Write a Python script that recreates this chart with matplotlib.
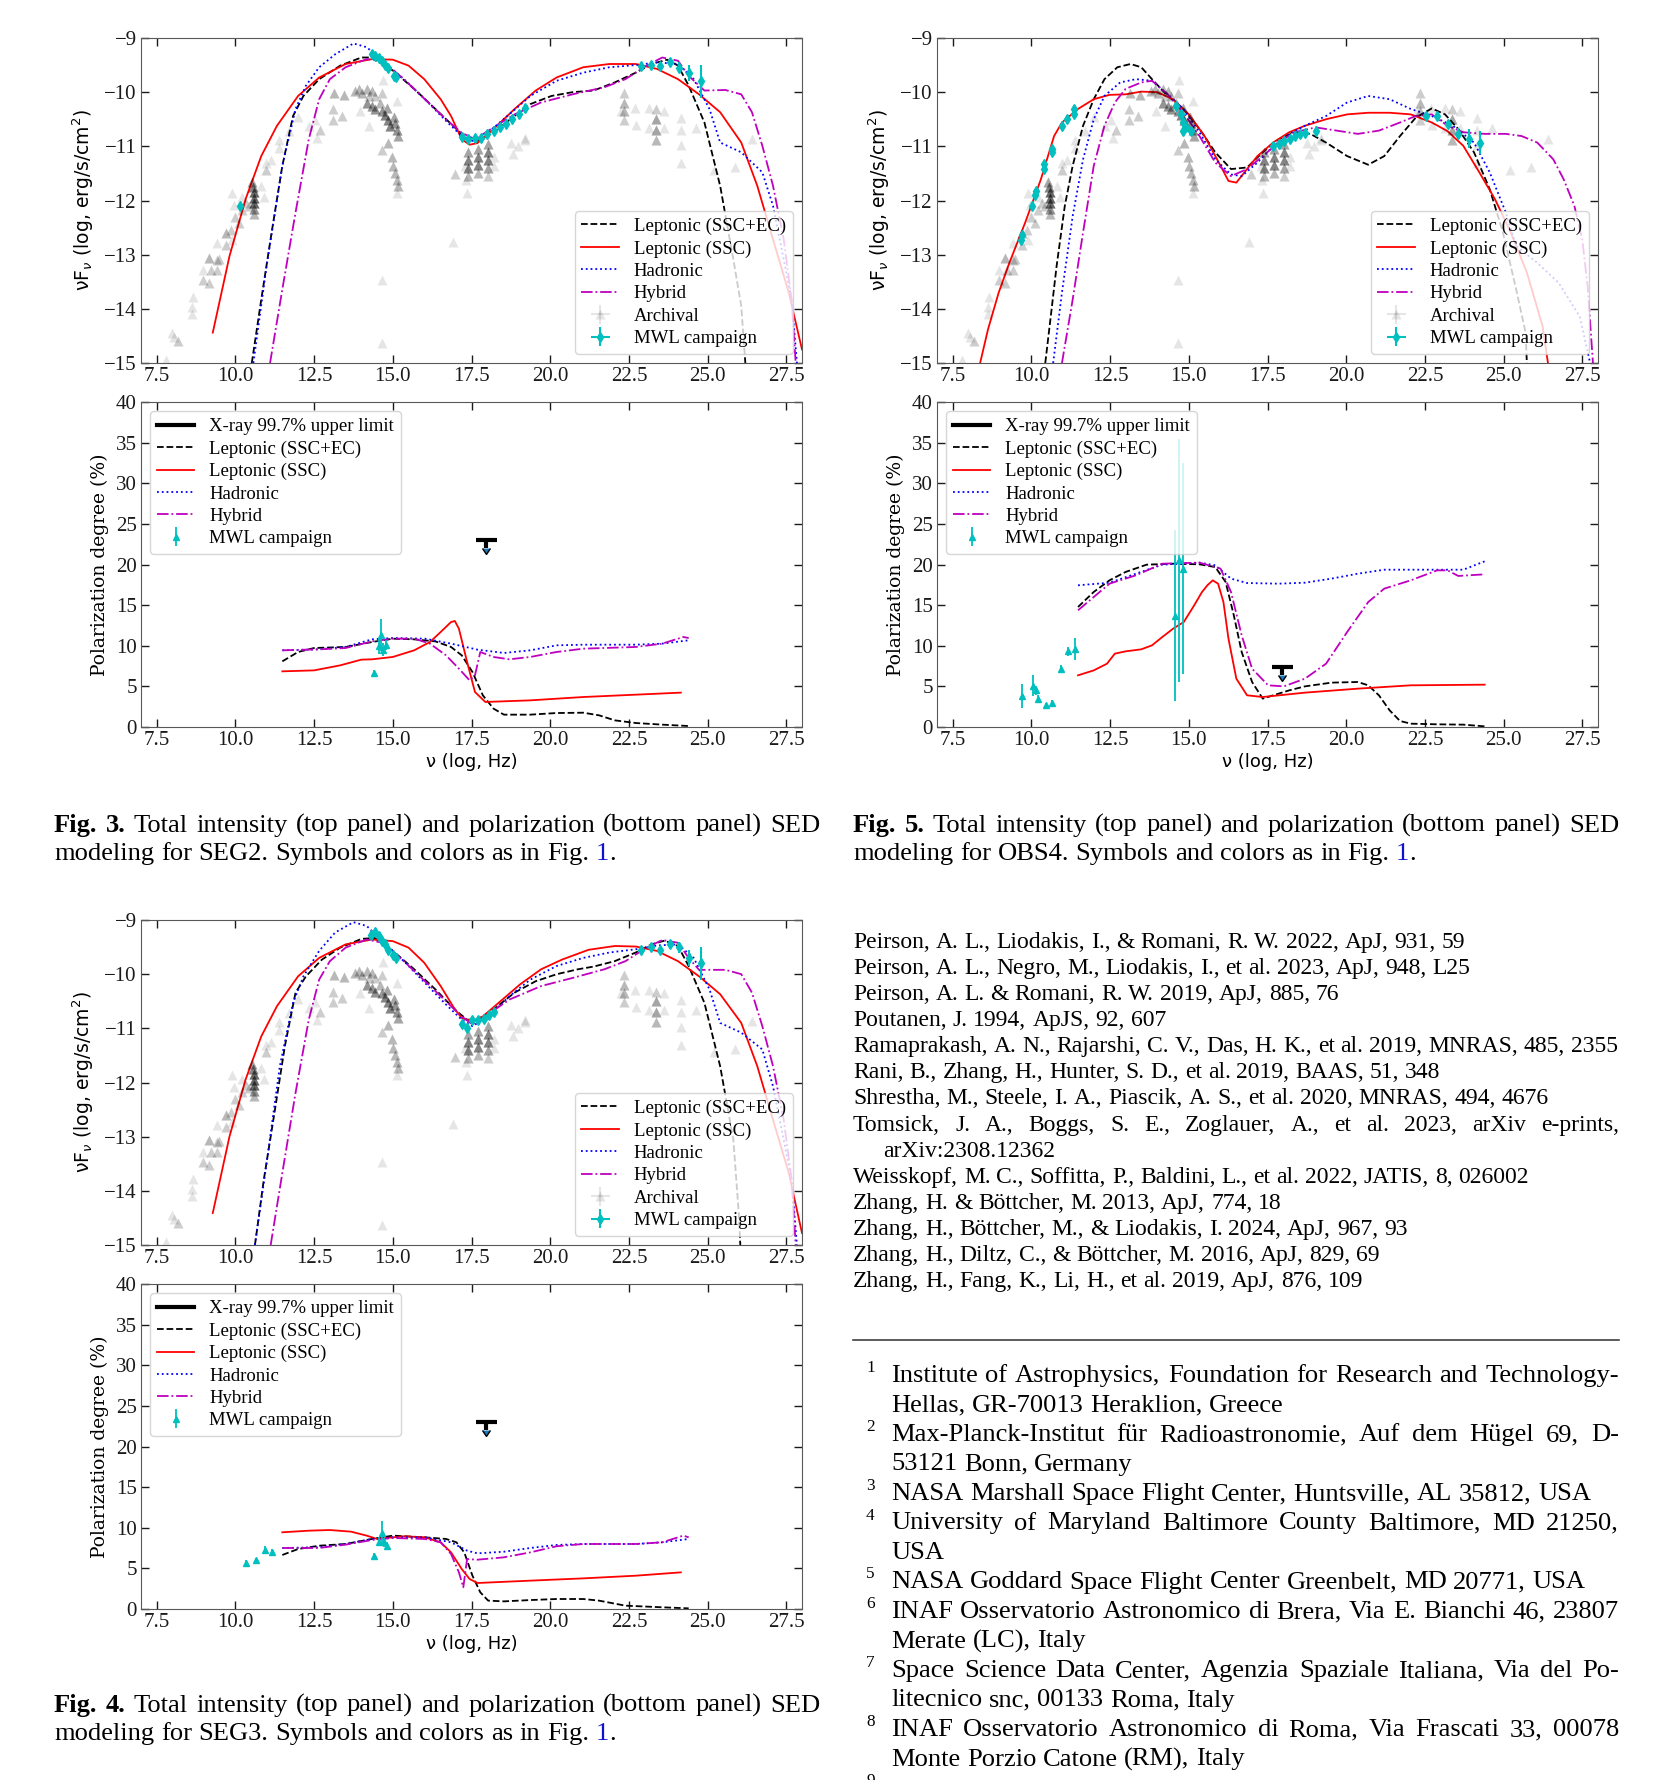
import numpy as np
import matplotlib
matplotlib.use('Agg')
import matplotlib.pyplot as plt
from matplotlib.lines import Line2D

plt.rcParams['font.family'] = 'Liberation Serif'
plt.rcParams['mathtext.fontset'] = 'dejavusans'
plt.rcParams['xtick.direction'] = 'in'
plt.rcParams['ytick.direction'] = 'in'
plt.rcParams['xtick.top'] = True
plt.rcParams['ytick.right'] = True

# ---------------- archival data (same in every SED panel) ----------------
arch_x = [7.8, 7.97, 8.06, 8.19, 8.62, 8.62, 8.64, 8.96, 8.96, 9.17, 9.17, 9.22, 9.4, 9.43, 9.48, 9.43,
          9.69, 9.69, 9.85, 9.9, 10.0, 10.11, 9.96, 9.9, 10.22, 10.22, 10.33, 10.43,
          10.54, 10.57, 10.6, 10.6, 10.6, 10.6, 10.6,
          10.81, 10.91, 10.96, 10.96, 11.12, 11.38, 11.38, 11.7, 12.0, 12.33, 12.54, 12.7, 12.6,
          13.12, 13.44, 13.09, 13.09, 13.39,
          13.81, 13.91, 14.02, 14.18, 14.34, 14.44, 14.23, 13.97, 14.23, 14.65, 14.7, 15.12,
          14.18, 14.34, 14.44, 14.6, 14.65, 14.76, 14.86, 14.92, 15.07, 15.12, 15.18, 14.8, 15.05,
          14.65, 14.86, 14.97, 15.02, 15.07, 15.12, 15.18, 15.12, 14.65, 14.65,
          16.97, 16.92, 17.29, 17.34, 17.37,
          17.4, 17.4, 17.4, 17.4, 17.7, 17.7, 17.7, 17.7, 18.02, 18.02, 18.02, 18.02, 18.02,
          18.23, 18.23, 18.76, 18.98, 19.19, 18.81, 19.2,
          22.26, 22.36, 22.36, 22.36, 22.36, 22.68, 22.73, 23.15, 23.15, 23.36, 23.36, 23.36, 23.36,
          23.63, 23.63, 24.16, 24.16, 24.16, 24.16, 24.63, 25.19, 25.88, 26.4]
arch_y = [-14.95, -14.45, -14.52, -14.6, -13.96, -14.09, -13.79, -13.47, -13.28, -13.53, -13.07, -13.28, -13.1, -13.28, -13.08, -12.79,
          -12.82, -12.6, -12.54, -12.73, -12.3, -12.42, -12.08, -11.86, -12.17, -11.93, -12.05, -12.11,
          -11.65, -11.75, -11.85, -11.95, -12.05, -12.15, -12.25,
          -11.74, -11.93, -11.43, -11.31, -11.25, -10.88, -11.03, -10.72, -10.45, -10.63, -10.51, -10.7, -10.85,
          -10.01, -10.06, -10.32, -10.52, -10.44,
          -9.98, -9.95, -10.01, -9.95, -9.98, -10.07, -10.07, -10.35, -10.63, -10.01, -9.77, -10.17,
          -10.2, -10.26, -10.32, -10.2, -10.35, -10.42, -10.51, -10.63, -10.57, -10.69, -10.81, -10.3, -10.45,
          -11.06, -10.94, -11.19, -11.37, -11.49, -11.62, -11.74, -11.86, -13.47, -14.63,
          -11.52, -12.76, -11.37, -11.62, -11.86,
          -11.1, -11.25, -11.4, -11.55, -11.05, -11.2, -11.35, -11.5, -10.95, -11.1, -11.25, -11.4, -11.55,
          -11.19, -11.37, -10.94, -11.0, -10.88, -11.15, -10.85,
          -10.35, -10.01, -10.2, -10.35, -10.51, -10.29, -10.6, -10.29, -10.66, -10.32, -10.5, -10.69, -10.88,
          -10.35, -10.66, -10.48, -10.69, -10.97, -11.3, -10.66, -11.44, -11.39, -10.86]
arch_n = [1, 1, 1, 2, 1, 1, 1, 2, 1, 2, 3, 2, 2, 2, 2, 1,
          2, 3, 2, 1, 2, 2, 1, 1, 2, 1, 2, 2,
          4, 6, 8, 8, 8, 5, 3,
          1, 1, 2, 1, 1, 1, 1, 1, 1, 1, 1, 2, 1,
          3, 3, 2, 2, 2,
          3, 3, 3, 3, 3, 2, 2, 1, 1, 2, 1, 1,
          5, 5, 5, 3, 5, 6, 6, 6, 5, 5, 4, 4, 4,
          2, 3, 3, 3, 3, 3, 3, 1, 1, 1,
          2, 1, 1, 1, 1,
          4, 6, 6, 3, 4, 6, 6, 3, 4, 6, 6, 4, 2,
          1, 1, 1, 1, 1, 1, 1,
          1, 2, 3, 3, 2, 1, 1, 1, 1, 2, 4, 4, 3,
          1, 1, 1, 1, 1, 1, 1, 1, 1, 1]

# ---------------- Fig. 3 (SEG2) ----------------
f3_ec_x = [10.52, 10.82, 11.15, 11.49, 11.83, 12.16, 12.66, 13.33, 14.0, 14.34, 15.0, 15.68, 16.35, 17.02, 17.36, 17.69, 18.2,
           18.87, 19.37, 20.04, 20.71, 21.38, 22.05, 22.72, 23.22, 23.72, 24.06, 24.4, 24.9, 25.4, 25.82, 26.07, 26.2]
f3_ec_y = [-15.0, -13.83, -12.59, -11.36, -10.44, -10.07, -9.76, -9.51, -9.36, -9.36, -9.6, -9.94, -10.31, -10.68, -10.87, -10.9, -10.74,
           -10.44, -10.22, -10.07, -10.0, -9.97, -9.82, -9.64, -9.48, -9.4, -9.51, -9.88, -10.56, -11.73, -13.09, -13.95, -15.0]
f3_ssc_x = [9.28, 9.81, 10.32, 10.82, 11.32, 11.99, 12.66, 13.5, 14.34, 15.0, 15.5, 16.0, 16.52, 16.85, 17.19, 17.44, 17.69, 18.2,
            18.87, 19.54, 20.2, 21.05, 21.88, 22.72, 23.39, 24.06, 24.73, 25.4, 26.07, 26.58, 27.08, 27.58, 28.0]
f3_ssc_y = [-14.44, -13.03, -11.98, -11.18, -10.62, -10.07, -9.73, -9.48, -9.39, -9.4, -9.51, -9.76, -10.13, -10.44, -10.87, -10.97, -10.94, -10.68,
            -10.31, -9.97, -9.73, -9.54, -9.48, -9.48, -9.57, -9.76, -10.04, -10.37, -10.93, -11.73, -12.72, -13.7, -14.75]
f3_had_x = [10.57, 10.99, 11.49, 11.91, 12.24, 12.66, 13.17, 13.75, 14.17, 14.67, 15.35, 16.02, 16.69, 17.19, 17.53, 18.03, 18.7,
            19.37, 20.2, 21.05, 21.88, 22.72, 23.39, 24.06, 24.56, 25.06, 25.4, 26.07, 26.74, 27.08, 27.42, 27.67, 27.84]
f3_had_y = [-15.0, -13.21, -11.36, -10.31, -9.88, -9.54, -9.3, -9.1, -9.17, -9.42, -9.76, -10.13, -10.53, -10.81, -10.9, -10.74, -10.41,
            -10.07, -9.79, -9.64, -9.54, -9.5, -9.45, -9.48, -9.76, -10.31, -10.93, -11.11, -11.48, -12.1, -13.09, -13.83, -15.0]
f3_hyb_x = [11.1, 11.49, 11.91, 12.33, 12.66, 13.0, 13.5, 14.17, 14.67, 15.35, 16.02, 16.69, 17.19, 17.61, 18.2, 18.87, 19.71,
            20.71, 21.72, 22.39, 23.06, 23.56, 24.06, 24.4, 24.9, 25.57, 26.07, 26.41, 26.74, 27.08, 27.42, 27.67, 27.8]
f3_hyb_y = [-15.0, -13.64, -12.22, -10.87, -10.13, -9.76, -9.54, -9.39, -9.42, -9.76, -10.13, -10.5, -10.75, -10.87, -10.65, -10.41, -10.19,
            -10.04, -9.91, -9.76, -9.51, -9.36, -9.42, -9.7, -9.97, -9.96, -10.04, -10.37, -10.99, -11.73, -12.72, -13.83, -15.0]
f3_mwl_x = [10.15, 14.35, 14.45, 14.55, 14.65, 14.75, 14.85, 15.05, 15.1, 17.2, 17.4, 17.6, 17.8, 18.0, 18.2, 18.4, 18.6, 18.8, 19.0, 19.2,
            22.9, 23.2, 23.5, 23.8, 24.1, 24.4, 24.8]
f3_mwl_y = [-12.1, -9.3, -9.33, -9.37, -9.42, -9.5, -9.55, -9.7, -9.72, -10.82, -10.87, -10.85, -10.85, -10.78, -10.72, -10.65, -10.58, -10.5, -10.4, -10.3,
            -9.52, -9.5, -9.52, -9.45, -9.55, -9.65, -9.8]
f3_mwl_yerr = [0.05, 0.04, 0.04, 0.04, 0.04, 0.04, 0.04, 0.04, 0.04, 0.06, 0.05, 0.05, 0.05, 0.05, 0.05, 0.05, 0.05, 0.05, 0.06, 0.08,
               0.05, 0.05, 0.06, 0.07, 0.1, 0.15, 0.3]

f3_pol_ec_x = [11.49, 11.99, 12.5, 13.5, 14.34, 15.0, 15.68, 16.35, 16.85, 17.19, 17.53, 17.86, 18.2, 18.53, 19.37, 20.2, 21.05, 21.55, 22.05, 22.72, 23.56, 24.4]
f3_pol_ec_y = [8.08, 9.23, 9.72, 9.85, 10.46, 10.87, 10.79, 10.54, 9.85, 8.82, 6.77, 3.9, 2.26, 1.52, 1.52, 1.72, 1.76, 1.44, 0.82, 0.49, 0.29, 0.12]
f3_pol_ssc_x = [11.49, 12.5, 13.33, 14.0, 14.34, 15.0, 15.68, 16.18, 16.52, 16.85, 16.97, 17.1, 17.36, 17.61, 17.94, 19.37, 21.05, 22.72, 24.15]
f3_pol_ssc_y = [6.85, 6.97, 7.59, 8.29, 8.33, 8.62, 9.44, 10.46, 11.69, 12.92, 13.05, 12.1, 8.0, 4.31, 3.08, 3.28, 3.69, 3.98, 4.23]
f3_pol_had_x = [11.49, 12.66, 13.5, 14.34, 15.0, 16.02, 16.85, 17.69, 18.53, 19.37, 20.2, 21.05, 22.72, 23.56, 24.4]
f3_pol_had_y = [9.44, 9.56, 9.85, 10.79, 10.95, 10.87, 10.26, 9.52, 9.11, 9.44, 10.05, 10.13, 10.13, 10.26, 10.67]
f3_pol_hyb_x = [11.49, 12.66, 13.5, 14.34, 15.0, 15.68, 16.18, 16.69, 17.1, 17.44, 17.61, 17.78, 18.2, 18.7, 19.37, 20.2, 21.05, 22.72, 23.56, 24.23, 24.4]
f3_pol_hyb_y = [9.44, 9.56, 9.72, 10.54, 10.87, 10.87, 10.26, 8.82, 7.18, 5.74, 6.36, 9.23, 8.62, 8.33, 8.62, 9.23, 9.64, 9.85, 10.26, 11.08, 10.95]
f3_pmwl_x = [14.4, 14.55, 14.62, 14.68, 14.78]
f3_pmwl_y = [6.6, 10.0, 11.3, 9.5, 10.1]
f3_pmwl_err = [0.4, 1.0, 2.0, 0.8, 0.6]
f3_ul = (17.97, 23.0)

# ---------------- Fig. 4 (SEG3) ----------------
f4_ec_x = [10.62, 10.9, 11.24, 11.57, 11.91, 12.24, 12.75, 13.33, 14.0, 14.42, 15.0, 15.68, 16.35, 17.02, 17.36, 17.69, 18.2,
           18.87, 19.54, 20.21, 20.88, 21.38, 22.05, 22.72, 23.22, 23.64, 24.06, 24.4, 24.9, 25.4, 25.82, 25.99, 26.04]
f4_ec_y = [-15.0, -13.8, -12.56, -11.33, -10.34, -10.04, -9.73, -9.51, -9.35, -9.33, -9.57, -9.91, -10.28, -10.68, -10.84, -10.84, -10.65,
           -10.34, -10.13, -10.0, -9.91, -9.86, -9.76, -9.6, -9.45, -9.38, -9.48, -9.85, -10.53, -11.7, -13.06, -14.41, -15.0]
f4_ssc_x = [9.28, 9.81, 10.32, 10.82, 11.32, 11.99, 12.66, 13.5, 14.34, 15.0, 15.5, 16.0, 16.52, 16.94, 17.19, 17.53, 17.86, 18.36,
            19.04, 19.71, 20.38, 21.22, 22.05, 22.72, 23.39, 24.06, 24.73, 25.4, 26.07, 26.58, 27.08, 27.58, 28.0]
f4_ssc_y = [-14.41, -13.0, -11.95, -11.15, -10.59, -10.04, -9.7, -9.45, -9.36, -9.39, -9.51, -9.79, -10.22, -10.62, -10.81, -10.87, -10.78, -10.53,
            -10.19, -9.91, -9.73, -9.55, -9.48, -9.49, -9.57, -9.76, -10.04, -10.37, -10.9, -11.7, -12.69, -13.67, -14.78]
f4_had_x = [10.62, 10.99, 11.41, 11.83, 12.16, 12.66, 13.17, 13.75, 14.17, 14.67, 15.35, 16.02, 16.69, 17.19, 17.53, 18.03, 18.7,
            19.37, 20.2, 21.05, 21.88, 22.72, 23.39, 24.06, 24.56, 25.06, 25.4, 26.07, 26.74, 27.08, 27.42, 27.67, 27.84]
f4_had_y = [-15.0, -13.49, -11.7, -10.53, -10.04, -9.57, -9.23, -9.04, -9.11, -9.39, -9.76, -10.16, -10.56, -10.84, -10.96, -10.78, -10.41,
            -10.1, -9.85, -9.7, -9.6, -9.54, -9.47, -9.45, -9.7, -10.28, -10.9, -11.08, -11.39, -12.07, -13.06, -13.8, -15.0]
f4_hyb_x = [11.12, 11.49, 11.91, 12.33, 12.66, 13.0, 13.5, 14.17, 14.67, 15.35, 16.02, 16.69, 17.19, 17.53, 18.03, 18.7, 19.71,
            20.71, 21.72, 22.39, 23.06, 23.56, 24.06, 24.4, 24.73, 25.57, 26.07, 26.41, 26.74, 27.08, 27.42, 27.67, 27.8]
f4_hyb_y = [-15.0, -13.67, -12.19, -10.84, -10.1, -9.76, -9.51, -9.36, -9.42, -9.76, -10.13, -10.5, -10.78, -10.93, -10.74, -10.47, -10.22,
            -10.07, -9.91, -9.76, -9.51, -9.37, -9.42, -9.7, -9.92, -9.92, -10.0, -10.34, -10.96, -11.7, -12.69, -13.8, -15.0]
f4_mwl_x = [14.3, 14.45, 14.55, 14.65, 14.75, 14.85, 15.0, 15.1, 17.2, 17.35, 17.5, 17.7, 17.9, 18.05, 18.2,
            22.9, 23.2, 23.5, 23.8, 24.1, 24.4, 24.8]
f4_mwl_y = [-9.28, -9.22, -9.3, -9.38, -9.45, -9.55, -9.65, -9.7, -10.92, -11.0, -10.85, -10.85, -10.82, -10.75, -10.7,
            -9.55, -9.5, -9.55, -9.45, -9.5, -9.7, -9.8]
f4_mwl_yerr = [0.04, 0.06, 0.04, 0.04, 0.04, 0.04, 0.04, 0.04, 0.06, 0.06, 0.05, 0.05, 0.05, 0.05, 0.06,
               0.05, 0.05, 0.06, 0.07, 0.1, 0.15, 0.3]

f4_pol_ec_x = [11.49, 11.99, 12.66, 13.5, 14.34, 15.0, 16.02, 16.69, 17.02, 17.27, 17.53, 17.78, 18.03, 18.53, 19.37, 20.2, 21.05, 21.55, 22.39, 23.56, 24.4]
f4_pol_ec_y = [6.65, 7.38, 7.79, 8.0, 8.62, 9.03, 8.82, 8.62, 8.21, 6.97, 4.1, 2.05, 1.03, 0.94, 1.1, 1.23, 1.23, 1.03, 0.41, 0.21, 0.08]
f4_pol_ssc_x = [11.49, 12.33, 13.0, 13.67, 14.17, 14.5, 15.35, 16.02, 16.52, 16.85, 17.19, 17.44, 17.69, 19.37, 21.05, 22.72, 24.15]
f4_pol_ssc_y = [9.44, 9.64, 9.72, 9.52, 9.03, 8.62, 8.95, 8.82, 8.21, 6.97, 4.92, 3.69, 3.2, 3.49, 3.77, 4.1, 4.51]
f4_pol_had_x = [11.49, 12.66, 13.5, 14.34, 15.0, 16.02, 16.85, 17.36, 17.69, 18.53, 19.37, 20.2, 21.05, 22.72, 23.56, 24.4]
f4_pol_had_y = [7.51, 7.59, 8.0, 8.62, 8.82, 8.82, 8.21, 7.18, 6.85, 7.05, 7.51, 7.88, 8.0, 8.0, 8.21, 8.62]
f4_pol_hyb_x = [11.49, 12.66, 13.5, 14.34, 15.0, 16.02, 16.52, 16.85, 17.1, 17.24, 17.36, 17.69, 18.53, 19.37, 20.2, 21.05, 22.72, 23.56, 24.23, 24.4]
f4_pol_hyb_y = [7.51, 7.51, 7.92, 8.49, 8.74, 8.62, 8.21, 6.77, 4.51, 2.67, 6.15, 6.07, 6.36, 6.97, 7.72, 8.0, 8.0, 8.21, 9.03, 8.82]
f4_pmwl_x = [10.35, 10.65, 10.95, 11.15, 14.4, 14.55, 14.65, 14.72, 14.82]
f4_pmwl_y = [5.7, 6.0, 7.3, 7.0, 6.5, 8.3, 9.3, 8.2, 7.8]
f4_pmwl_err = [0.3, 0.3, 0.4, 0.4, 0.4, 0.6, 1.5, 0.6, 0.5]
f4_ul = (17.97, 23.0)

# ---------------- Fig. 5 (OBS4) ----------------
f5_ec_x = [10.44, 10.64, 10.8, 11.06, 11.31, 11.64, 11.98, 12.32, 12.73, 13.15, 13.49, 13.83, 14.33, 14.83, 15.34, 15.84, 16.34, 16.85,
           17.35, 17.85, 18.36, 18.86, 19.36, 20.03, 20.7, 21.21, 21.71, 22.21, 22.72, 23.14, 23.56, 24.06, 24.56, 24.98, 25.4, 25.7, 25.74]
f5_ec_y = [-15.0, -14.01, -13.21, -12.1, -11.36, -10.62, -10.13, -9.76, -9.54, -9.48, -9.54, -9.76, -10.07, -10.31, -10.68, -11.11, -11.42, -11.39,
           -11.11, -10.87, -10.74, -10.77, -10.93, -11.18, -11.34, -11.18, -10.81, -10.47, -10.3, -10.41, -10.68, -11.11, -11.79, -12.59, -13.64, -14.44, -15.0]
f5_ssc_x = [8.37, 8.62, 8.96, 9.3, 9.8, 10.3, 10.72, 10.97, 11.48, 11.98, 12.48, 12.99, 13.49, 13.99, 14.5, 15.0, 15.5, 16.01, 16.26, 16.51,
            16.85, 17.18, 17.68, 18.19, 18.69, 19.36, 20.03, 20.7, 21.38, 22.05, 22.72, 23.22, 23.72, 24.23, 24.73, 25.23, 25.74, 26.24, 26.41]
f5_ssc_y = [-15.0, -14.38, -13.7, -13.15, -12.41, -11.61, -10.81, -10.56, -10.31, -10.13, -10.05, -10.04, -9.99, -10.0, -10.13, -10.41, -10.81, -11.36, -11.64, -11.67,
            -11.42, -11.18, -10.93, -10.74, -10.62, -10.5, -10.41, -10.38, -10.38, -10.41, -10.56, -10.72, -10.99, -11.48, -11.98, -12.59, -13.33, -14.32, -15.0]
f5_had_x = [10.69, 10.97, 11.31, 11.64, 11.98, 12.32, 12.82, 13.32, 13.83, 14.33, 14.83, 15.34, 15.84, 16.34, 16.68, 17.18, 17.68, 18.19,
            18.69, 19.36, 20.03, 20.7, 21.38, 22.05, 22.72, 23.39, 24.06, 24.56, 25.07, 25.4, 26.07, 26.75, 27.42, 27.75]
f5_had_y = [-15.0, -13.7, -12.29, -11.24, -10.5, -10.07, -9.82, -9.76, -9.79, -10.04, -10.31, -10.74, -11.24, -11.52, -11.55, -11.3, -11.0, -10.77,
            -10.62, -10.44, -10.19, -10.07, -10.13, -10.31, -10.44, -10.62, -10.93, -11.48, -12.22, -12.84, -13.15, -13.52, -14.14, -15.0]
f5_hyb_x = [10.97, 11.31, 11.64, 11.98, 12.32, 12.65, 12.99, 13.49, 13.83, 14.33, 14.83, 15.34, 15.84, 16.34, 16.85, 17.35, 17.85, 18.36,
            19.03, 19.7, 20.37, 21.04, 21.71, 22.21, 22.72, 23.22, 23.72, 24.4, 25.07, 25.57, 26.07, 26.58, 26.91, 27.25, 27.5, 27.67, 27.84]
f5_hyb_y = [-15.0, -13.83, -12.59, -11.36, -10.62, -10.19, -9.94, -9.82, -9.79, -10.04, -10.38, -10.81, -11.3, -11.55, -11.42, -11.18, -10.93, -10.74,
            -10.65, -10.71, -10.77, -10.71, -10.56, -10.44, -10.41, -10.62, -10.74, -10.77, -10.77, -10.81, -10.93, -11.24, -11.61, -12.1, -12.72, -13.58, -15.0]
f5_mwl_x = [9.66, 9.71, 10.02, 10.1, 10.13, 10.39, 10.39, 10.64, 10.64, 10.97, 11.14, 11.34, 11.34,
            14.58, 14.75, 14.83, 14.92, 14.83, 15.08, 17.68, 17.85, 18.02, 18.2, 18.36, 18.52, 18.69, 19.03,
            22.55, 22.89, 23.22, 23.56, 23.89, 24.26]
f5_mwl_y = [-12.72, -12.63, -12.11, -11.89, -11.83, -11.42, -11.32, -11.11, -11.05, -10.62, -10.5, -10.41, -10.31,
            -10.25, -10.41, -10.56, -10.65, -10.71, -10.71, -11.0, -10.95, -10.9, -10.86, -10.81, -10.78, -10.75, -10.72,
            -10.44, -10.44, -10.59, -10.77, -10.86, -10.93]
f5_mwl_yerr = [0.05, 0.05, 0.05, 0.05, 0.05, 0.05, 0.05, 0.05, 0.05, 0.05, 0.05, 0.05, 0.05,
               0.04, 0.04, 0.04, 0.04, 0.04, 0.04, 0.05, 0.05, 0.05, 0.05, 0.05, 0.05, 0.05, 0.06,
               0.06, 0.06, 0.07, 0.1, 0.18, 0.22]

f5_pol_ec_x = [11.48, 11.98, 12.48, 12.99, 13.66, 14.5, 15.34, 15.84, 16.17, 16.43, 16.68, 17.01, 17.35, 17.68, 18.19, 18.69, 19.53, 20.37,
               20.7, 21.04, 21.38, 21.71, 22.05, 22.89, 23.72, 24.4]
f5_pol_ec_y = [14.77, 16.62, 18.05, 19.08, 19.98, 20.1, 20.02, 19.69, 17.85, 13.74, 9.23, 5.54, 3.49, 3.9, 4.51, 5.0, 5.46, 5.54,
               5.13, 3.9, 2.05, 0.74, 0.41, 0.33, 0.29, 0.08]
f5_pol_ssc_x = [11.48, 11.98, 12.4, 12.65, 12.99, 13.49, 13.83, 14.16, 14.5, 14.84, 15.17, 15.42, 15.59, 15.76, 15.93, 16.1, 16.26, 16.51,
                16.85, 17.35, 18.69, 20.37, 22.05, 24.4]
f5_pol_ssc_y = [6.36, 6.97, 7.79, 9.03, 9.31, 9.56, 10.05, 11.08, 12.1, 12.92, 14.97, 16.62, 17.44, 18.05, 17.64, 15.38, 10.87, 5.95,
                3.9, 3.69, 4.23, 4.72, 5.13, 5.21]
f5_pol_had_x = [11.48, 12.48, 13.32, 14.16, 15.34, 15.84, 16.34, 16.85, 17.85, 18.69, 19.53, 20.37, 21.21, 22.05, 23.72, 24.4]
f5_pol_had_y = [17.44, 17.76, 18.87, 19.98, 20.23, 19.9, 18.26, 17.72, 17.64, 17.76, 18.26, 18.87, 19.36, 19.36, 19.36, 20.39]
f5_pol_hyb_x = [11.48, 11.98, 12.48, 13.32, 14.16, 15.34, 16.01, 16.34, 16.68, 17.01, 17.52, 18.02, 18.69, 19.36, 20.03, 20.7, 21.21,
                22.05, 22.89, 23.22, 23.56, 23.89, 24.4]
f5_pol_hyb_y = [14.36, 16.0, 17.64, 18.67, 20.1, 20.23, 19.49, 16.62, 11.28, 7.18, 5.13, 5.0, 5.95, 7.79, 11.69, 15.38, 17.03,
                18.05, 19.28, 19.28, 18.59, 18.67, 18.79]
f5_pmwl_x = [9.7, 10.05, 10.15, 10.2, 10.45, 10.65, 10.95, 11.15, 11.4, 14.55, 14.7, 14.8]
f5_pmwl_y = [3.8, 5.1, 4.5, 3.5, 2.7, 3.0, 7.2, 9.3, 9.6, 13.7, 20.5, 19.5]
f5_pmwl_err = [1.5, 1.3, 0.6, 0.5, 0.3, 0.3, 0.4, 0.5, 1.3, 10.5, 15.0, 13.0]
f5_ul = (17.97, 7.4)

# ---------------- page text ----------------
captions = [
    ("3.", "Total intensity (top panel) and polarization (bottom panel) SED", "modeling for SEG2. Symbols and colors as in Fig."),
    ("5.", "Total intensity (top panel) and polarization (bottom panel) SED", "modeling for OBS4. Symbols and colors as in Fig."),
    ("4.", "Total intensity (top panel) and polarization (bottom panel) SED", "modeling for SEG3. Symbols and colors as in Fig."),
]
references = [
    ("Peirson, A. L., Liodakis, I., & Romani, R. W. 2022, ApJ, 931, 59", False),
    ("Peirson, A. L., Negro, M., Liodakis, I., et al. 2023, ApJ, 948, L25", False),
    ("Peirson, A. L. & Romani, R. W. 2019, ApJ, 885, 76", False),
    ("Poutanen, J. 1994, ApJS, 92, 607", False),
    ("Ramaprakash, A. N., Rajarshi, C. V., Das, H. K., et al. 2019, MNRAS, 485, 2355", False),
    ("Rani, B., Zhang, H., Hunter, S. D., et al. 2019, BAAS, 51, 348", False),
    ("Shrestha, M., Steele, I. A., Piascik, A. S., et al. 2020, MNRAS, 494, 4676", False),
    ("Tomsick, J. A., Boggs, S. E., Zoglauer, A., et al. 2023, arXiv e-prints,", True),
    ("arXiv:2308.12362", False),
    ("Weisskopf, M. C., Soffitta, P., Baldini, L., et al. 2022, JATIS, 8, 026002", False),
    ("Zhang, H. & Böttcher, M. 2013, ApJ, 774, 18", False),
    ("Zhang, H., Böttcher, M., & Liodakis, I. 2024, ApJ, 967, 93", False),
    ("Zhang, H., Diltz, C., & Böttcher, M. 2016, ApJ, 829, 69", False),
    ("Zhang, H., Fang, K., Li, H., et al. 2019, ApJ, 876, 109", False),
]
affiliations = [
    ("1", ["Institute of Astrophysics, Foundation for Research and Technology-", "Hellas, GR-70013 Heraklion, Greece"]),
    ("2", ["Max-Planck-Institut für Radioastronomie, Auf dem Hügel 69, D-", "53121 Bonn, Germany"]),
    ("3", ["NASA Marshall Space Flight Center, Huntsville, AL 35812, USA"]),
    ("4", ["University of Maryland Baltimore County Baltimore, MD 21250,", "USA"]),
    ("5", ["NASA Goddard Space Flight Center Greenbelt, MD 20771, USA"]),
    ("6", ["INAF Osservatorio Astronomico di Brera, Via E. Bianchi 46, 23807", "Merate (LC), Italy"]),
    ("7", ["Space Science Data Center, Agenzia Spaziale Italiana, Via del Po-", "litecnico snc, 00133 Roma, Italy"]),
    ("8", ["INAF Osservatorio Astronomico di Roma, Via Frascati 33, 00078", "Monte Porzio Catone (RM), Italy"]),
    ("9", [""]),
]

W_PX, H_PX = 1660, 1780
fig = plt.figure(figsize=(W_PX / 100, H_PX / 100), dpi=100)

XT = [7.5, 10.0, 12.5, 15.0, 17.5, 20.0, 22.5, 25.0, 27.5]
LW = 1.3
LEG = dict(fontsize=13.5, framealpha=0.8, labelspacing=0.28, borderpad=0.35, handletextpad=0.8)


def style_axes(ax):
    ax.set_xlim(7.0, 28.0)
    ax.set_xticks(XT)
    ax.set_xticklabels([f"{t:.1f}" for t in XT])
    ax.tick_params(labelsize=15, length=6, width=1, colors='0.1', pad=3)
    for s in ax.spines.values():
        s.set_color('0.35')


def sed_panel(ax, ec, ssc, had, hyb, mwl):
    ax.plot(*ec, 'k--', lw=LW, label='Leptonic (SSC+EC)')
    ax.plot(*ssc, color='red', lw=LW, label='Leptonic (SSC)')
    ax.plot(*had, 'b:', lw=LW, label='Hadronic')
    ax.plot(*hyb, 'm-.', lw=LW, label='Hybrid')
    ax.errorbar(np.repeat(arch_x, arch_n), np.repeat(arch_y, arch_n), xerr=0, yerr=0, fmt='^',
                color='k', ms=6.5, mec='none', alpha=0.1, label='Archival')
    mx, my, me = mwl
    ax.errorbar(mx, my, yerr=me, xerr=0.06, fmt='d', color='c', ms=5, elinewidth=1.5,
                label='MWL campaign', zorder=5)
    ax.set_ylim(-15, -9)
    ax.set_yticks(range(-15, -8))
    style_axes(ax)
    ax.set_ylabel('νF$_{\\nu}$ (log, erg/s/cm$^2$)', family='DejaVu Sans', fontsize=13.5, labelpad=6)
    ax.legend(loc='lower right', **LEG)


def pol_panel(ax, ec, ssc, had, hyb, mwl, ul):
    h1, = ax.plot(*ec, 'k--', lw=LW)
    h2, = ax.plot(*ssc, color='red', lw=LW)
    h3, = ax.plot(*had, 'b:', lw=LW)
    h4, = ax.plot(*hyb, 'm-.', lw=LW)
    mx, my, me = mwl
    h5 = ax.errorbar(mx, my, yerr=me, fmt='^', color='c', ms=5, elinewidth=1.3, zorder=5)
    ax.errorbar([ul[0]], [ul[1]], xerr=0.33, yerr=1.0, uplims=True, fmt='none', ecolor='k',
                elinewidth=3, zorder=6)
    h0 = Line2D([], [], color='k', lw=3)
    ax.set_ylim(0, 40)
    ax.set_yticks(range(0, 41, 5))
    style_axes(ax)
    ax.set_ylabel('Polarization degree (%)', family='DejaVu Serif', fontsize=13.5, labelpad=5)
    ax.set_xlabel('ν (log, Hz)', family='DejaVu Sans', fontsize=13, labelpad=2)
    ax.legend([h0, h1, h2, h3, h4, h5],
              ['X-ray 99.7% upper limit', 'Leptonic (SSC+EC)', 'Leptonic (SSC)', 'Hadronic', 'Hybrid', 'MWL campaign'],
              loc='upper left', **LEG)


AW, AH = 661 / W_PX, 325 / H_PX
LX, RX = 141 / W_PX, 937 / W_PX


def ypos(top_px):
    return 1 - (top_px + 325) / H_PX


ax = fig.add_axes([LX, ypos(38), AW, AH])
sed_panel(ax, (f3_ec_x, f3_ec_y), (f3_ssc_x, f3_ssc_y), (f3_had_x, f3_had_y), (f3_hyb_x, f3_hyb_y),
          (f3_mwl_x, f3_mwl_y, f3_mwl_yerr))
ax = fig.add_axes([LX, ypos(402), AW, AH])
pol_panel(ax, (f3_pol_ec_x, f3_pol_ec_y), (f3_pol_ssc_x, f3_pol_ssc_y), (f3_pol_had_x, f3_pol_had_y),
          (f3_pol_hyb_x, f3_pol_hyb_y), (f3_pmwl_x, f3_pmwl_y, f3_pmwl_err), f3_ul)

ax = fig.add_axes([RX, ypos(38), AW, AH])
sed_panel(ax, (f5_ec_x, f5_ec_y), (f5_ssc_x, f5_ssc_y), (f5_had_x, f5_had_y), (f5_hyb_x, f5_hyb_y),
          (f5_mwl_x, f5_mwl_y, f5_mwl_yerr))
ax = fig.add_axes([RX, ypos(402), AW, AH])
pol_panel(ax, (f5_pol_ec_x, f5_pol_ec_y), (f5_pol_ssc_x, f5_pol_ssc_y), (f5_pol_had_x, f5_pol_had_y),
          (f5_pol_hyb_x, f5_pol_hyb_y), (f5_pmwl_x, f5_pmwl_y, f5_pmwl_err), f5_ul)

ax = fig.add_axes([LX, ypos(920), AW, AH])
sed_panel(ax, (f4_ec_x, f4_ec_y), (f4_ssc_x, f4_ssc_y), (f4_had_x, f4_had_y), (f4_hyb_x, f4_hyb_y),
          (f4_mwl_x, f4_mwl_y, f4_mwl_yerr))
ax = fig.add_axes([LX, ypos(1284), AW, AH])
pol_panel(ax, (f4_pol_ec_x, f4_pol_ec_y), (f4_pol_ssc_x, f4_pol_ssc_y), (f4_pol_had_x, f4_pol_had_y),
          (f4_pol_hyb_x, f4_pol_hyb_y), (f4_pmwl_x, f4_pmwl_y, f4_pmwl_err), f4_ul)

# ---------------- page text with simple justification ----------------
R = fig.canvas.get_renderer()
FONT = 'Liberation Serif'


def tw(s, size, weight='normal'):
    t = fig.text(0, 0, s, fontsize=size, weight=weight, family=FONT)
    w = t.get_window_extent(renderer=R).width
    t.remove()
    return w / W_PX


COL_W = (1619 - 853) / W_PX
REF_SIZE = 10 * COL_W / tw(references[4][0], 10)
BIG_SIZE = REF_SIZE * 1.12


def words(s, color='k', weight='normal'):
    return [(w, color, weight, True) for w in s.split()]


def put_line(tokens, x0, ybase_px, size, x1=None, x_max=None):
    y = 1 - ybase_px / H_PX
    ws = [tw(t, size, wt) for t, c, wt, sp in tokens]
    nsp = sum(1 for tk in tokens[1:] if tk[3])
    gap = tw('n n', size) - tw('nn', size)
    natural = sum(ws) + nsp * gap
    if x1 is None and x_max is not None and x0 + natural > x_max:
        x1 = x_max
    if x1 is not None and nsp:
        gap = (x1 - x0 - sum(ws)) / nsp
    x = x0
    for i, (t, c, wt, sp) in enumerate(tokens):
        if i > 0 and sp:
            x += gap
        fig.text(x, y, t, color=c, weight=wt, family=FONT, fontsize=size, va='baseline', ha='left')
        x += ws[i]


cap_pos = [(54, 832), (853, 832), (54, 1712)]
for (num, l1, l2), (xp, yb) in zip(captions, cap_pos):
    x0 = xp / W_PX
    put_line([('Fig.', 'k', 'bold', True), (num, 'k', 'bold', True)] + words(l1), x0, yb, BIG_SIZE, x0 + COL_W)
    put_line(words(l2) + [('1', '#1010d0', 'normal', True), ('.', 'k', 'normal', False)], x0, yb + 28, BIG_SIZE,
             x_max=x0 + COL_W)

x0 = 853 / W_PX
for i, (line, just) in enumerate(references):
    xs = x0 + (30 / W_PX if line.startswith('arXiv:') else 0)
    put_line(words(line), xs, 948 + i * 26.08, REF_SIZE, x0 + COL_W if just else None, x_max=x0 + COL_W)

fig.add_artist(Line2D([853 / W_PX, 1619 / W_PX], [1 - 1340 / H_PX] * 2, color='0.25', lw=1.2))

row = 0
for num, lines in affiliations:
    yb = 1382 + row * 29.5
    fig.text(866 / W_PX, 1 - (yb - 10) / H_PX, num, family=FONT, fontsize=BIG_SIZE * 0.65, va='baseline')
    for j, ln in enumerate(lines):
        if ln:
            just = j < len(lines) - 1
            put_line(words(ln), 891 / W_PX, yb + j * 29.5, BIG_SIZE, 1619 / W_PX if just else None,
                     x_max=1619 / W_PX)
    row += len(lines)

fig.savefig('out.png', dpi=100)
